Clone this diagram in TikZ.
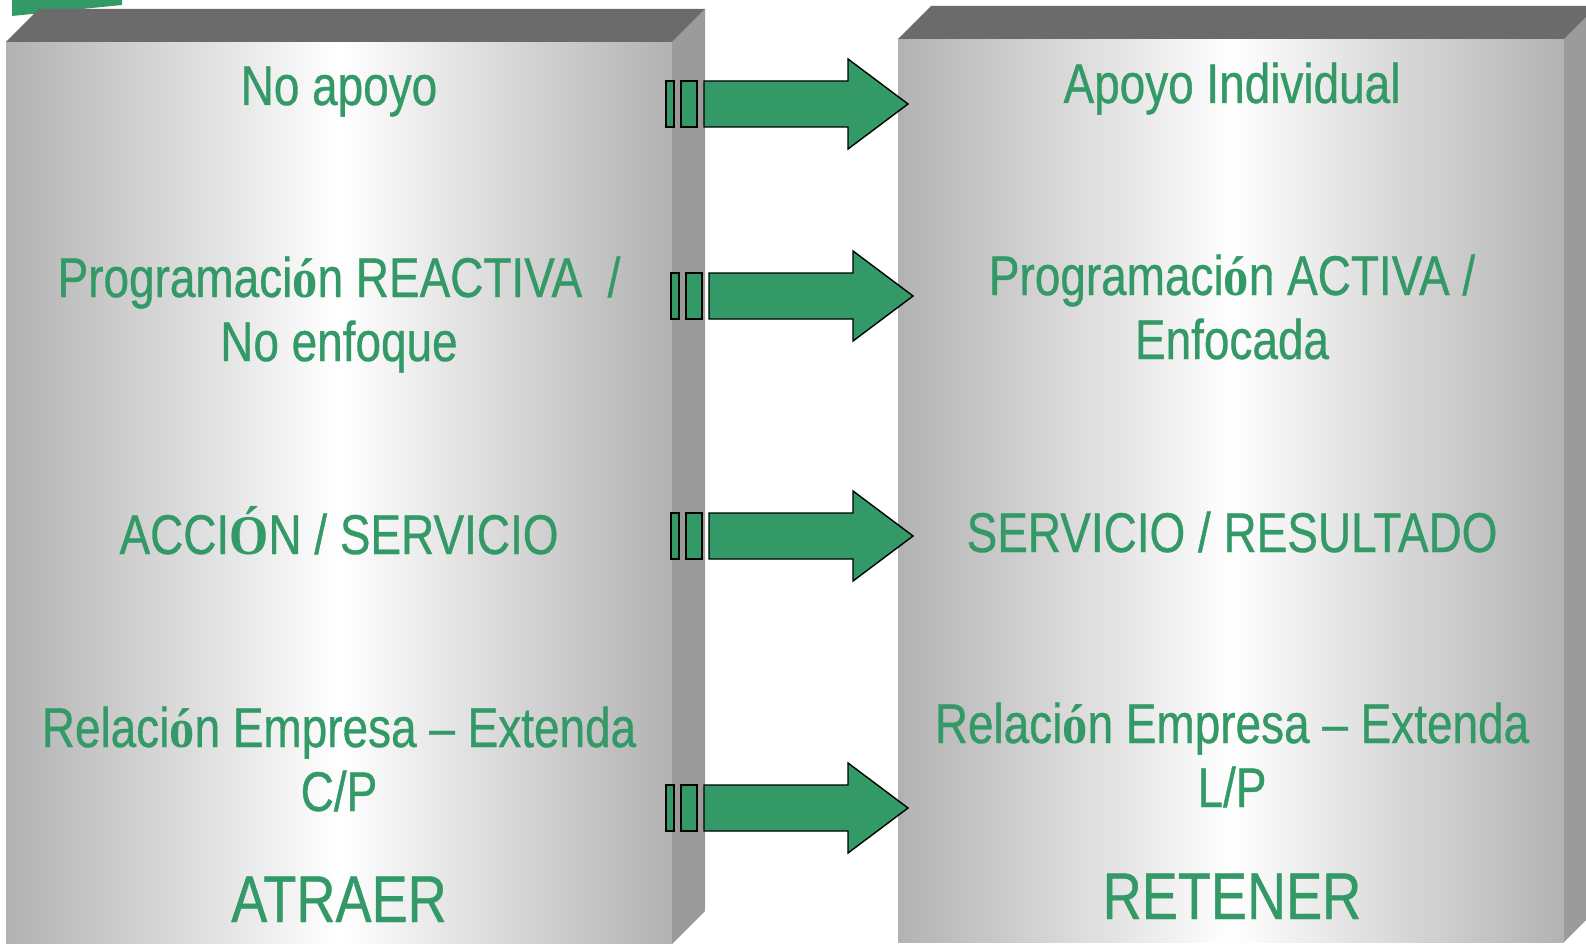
\documentclass[tikz,border=0pt]{standalone}
\usepackage{fontspec}
\setmainfont[FakeStretch=0.82,FakeBold=0.6]{Liberation Sans}
\newfontfamily\serifacc[FakeStretch=0.9]{Liberation Serif Bold}
\newcommand\oacc{{\serifacc ó}}
\newcommand\Oacc{{\serifacc Ó}}
\definecolor{pgreen}{HTML}{339966}
\definecolor{boxgray}{HTML}{B2B2B2}
\definecolor{sidegray}{HTML}{9B9B9B}
\definecolor{topgray}{HTML}{6B6B6B}
\tikzset{
  lbl/.style={anchor=base, inner sep=0pt, text=pgreen, font=\fontsize{56}{65}\selectfont},
  biglbl/.style={lbl, font=\fontsize{66}{72}\selectfont},
  frontface/.style={left color=boxgray, right color=boxgray, middle color=white},
  sideface/.style={fill=sidegray},
  topface/.style={fill=topgray},
  arrowpart/.style={fill=pgreen, draw=black, line width=1.4pt, line join=miter},
  blockarrow/.pic={
    \draw[arrowpart] (0,-23) rectangle (8,23);
    \draw[arrowpart] (15,-23) rectangle (31,23);
    \draw[arrowpart] (38,-23) -- (182,-23) -- (182,-45) -- (242,0) -- (182,45) -- (182,23) -- (38,23) -- cycle;
  }
}
\begin{document}
\begin{tikzpicture}[x=1pt,y=-1pt]
  \useasboundingbox (0,0) rectangle (1586,944);
  \clip (0,0) rectangle (1586,944);
  \fill[white] (0,0) rectangle (1586,944);
  % green fragment behind left box
  \fill[pgreen] (12,0) -- (122,0) -- (122,5) -- (12,16) -- cycle;
  % left box
  \shade[frontface] (6,42) rectangle (672,944);
  \fill[sideface] (672,42) -- (705,9) -- (705,911) -- (672,944) -- cycle;
  \fill[topface] (6,42) -- (39,9) -- (705,9) -- (672,42) -- cycle;
  % right box
  \shade[frontface] (898,39) rectangle (1564,942);
  \fill[sideface] (1564,39) -- (1597,6) -- (1597,909) -- (1564,942) -- cycle;
  \fill[topface] (898,39) -- (931,6) -- (1597,6) -- (1564,39) -- cycle;
  % left texts
  \node[lbl] (l1) at (339,105) {No apoyo};
  \node[lbl] (l2a) at (339,297) {Programaci\oacc n REACTIVA\ \ /};
  \node[lbl] (l2b) at (339,361) {No enfoque};
  \node[lbl] (l3) at (339,554) {ACCI\Oacc N / SERVICIO};
  \node[lbl] (l4a) at (339,747) {Relaci\oacc n Empresa -- Extenda};
  \node[lbl] (l4b) at (339,811) {C/P};
  \node[biglbl] (lt) at (339,922) {ATRAER};
  % right texts
  \node[lbl] (r1) at (1232,103) {Apoyo Individual};
  \node[lbl] (r2a) at (1232,295) {Programaci\oacc n ACTIVA /};
  \node[lbl] (r2b) at (1232,359) {Enfocada};
  \node[lbl] (r3) at (1232,552) {SERVICIO / RESULTADO};
  \node[lbl] (r4a) at (1232,743) {Relaci\oacc n Empresa -- Extenda};
  \node[lbl] (r4b) at (1232,807) {L/P};
  \node[biglbl] (rt) at (1232,919) {RETENER};
  % arrows
  \pic at (666,104) {blockarrow};
  \pic at (671,296) {blockarrow};
  \pic at (671,536) {blockarrow};
  \pic at (666,808) {blockarrow};
\end{tikzpicture}
\end{document}
